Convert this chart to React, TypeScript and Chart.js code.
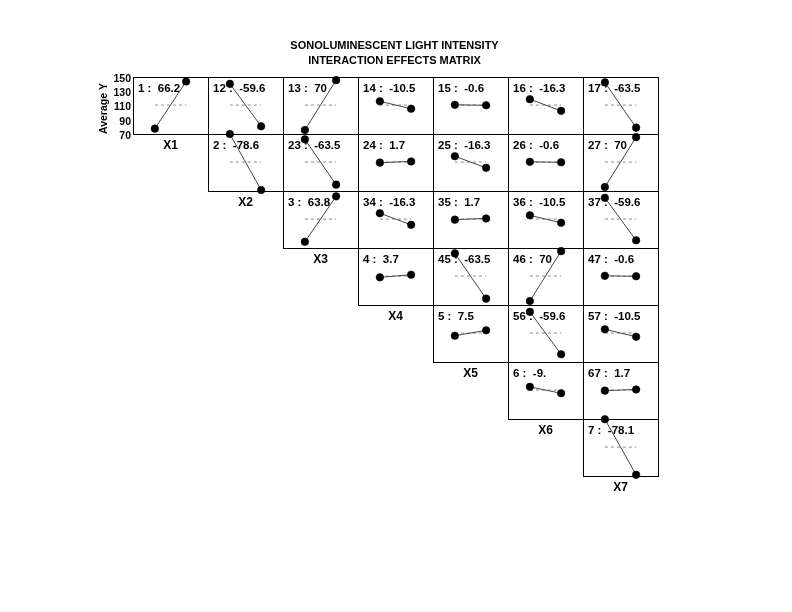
import React, { useEffect, useRef } from "react";
import { Chart, registerables } from "chart.js";

Chart.register(...registerables);

const FONT = '"Liberation Sans", Arial, Helvetica, sans-serif';

const titleLines = ["SONOLUMINESCENT LIGHT INTENSITY", "INTERACTION EFFECTS MATRIX"];
const factorNames = ["X1", "X2", "X3", "X4", "X5", "X6", "X7"];
const yAxisTitle = "Average Y";
const yTickValues = [70, 90, 110, 130, 150];
const yMin = 70;
const yMax = 150;
const xMin = -2.4;
const xMax = 2.4;
const levelLow = -1;
const levelHigh = 1;
const grandMean = 110.6;

// upper-triangle cells, row-major: "i" = main effect of Xi, "ij" = interaction Xi*Xj
const panelKeys = [
  "1", "12", "13", "14", "15", "16", "17",
  "2", "23", "24", "25", "26", "27",
  "3", "34", "35", "36", "37",
  "4", "45", "46", "47",
  "5", "56", "57",
  "6", "67",
  "7",
];

const effectLabels = [
  "66.2", "-59.6", "70", "-10.5", "-0.6", "-16.3", "-63.5",
  "-78.6", "-63.5", "1.7", "-16.3", "-0.6", "70",
  "63.8", "-16.3", "1.7", "-10.5", "-59.6",
  "3.7", "-63.5", "70", "-0.6",
  "7.5", "-59.6", "-10.5",
  "-9.", "1.7",
  "-78.1",
];

// average response at the low (-) level
const lowValues = [
  77.5, 140.4, 75.6, 115.9, 110.9, 118.8, 142.4,
  149.9, 142.4, 109.8, 118.8, 110.9, 75.6,
  78.7, 118.8, 109.8, 115.9, 140.4,
  108.8, 142.4, 75.6, 110.9,
  106.9, 140.4, 115.9,
  115.1, 109.8,
  149.7,
];

// average response at the high (+) level
const highValues = [
  143.7, 80.8, 145.6, 105.4, 110.3, 102.5, 78.9,
  71.3, 78.9, 111.5, 102.5, 110.3, 145.6,
  142.5, 102.5, 111.5, 105.4, 80.8,
  112.5, 78.9, 145.6, 110.3,
  114.4, 80.8, 105.4,
  106.1, 111.5,
  71.6,
];

function cellOf(key: string) {
  return { row: Number(key[0]) - 1, col: Number(key[key.length - 1]) - 1 };
}

const decorPlugin = {
  id: "matrixDecor",
  beforeDatasetsDraw(chart: any) {
    const { ctx, chartArea } = chart;
    ctx.save();
    ctx.fillStyle = "#000";
    ctx.textBaseline = "middle";

    // title
    ctx.font = `bold 11px ${FONT}`;
    ctx.textAlign = "center";
    const cx = (chartArea.left + chartArea.right) / 2 - 1;
    titleLines.forEach((t, i) => ctx.fillText(t, cx, chartArea.top - 31 + i * 15));

    panelKeys.forEach((key, k) => {
      const { row, col } = cellOf(key);
      const xs = chart.scales[`x${col}`];
      const ys = chart.scales[`y${row}`];
      const l = Math.round(xs.left);
      const r = Math.round(xs.right);
      const t = Math.round(ys.top);
      const b = Math.round(ys.bottom);
      ctx.strokeStyle = "#000";
      ctx.lineWidth = 1;
      ctx.strokeRect(l + 0.5, t + 0.5, r - l, b - t);

      ctx.textAlign = "left";
      ctx.font = `bold 11.5px ${FONT}`;
      ctx.fillText(`${key} :  ${effectLabels[k]}`, xs.left + 5, ys.top + 12);

      if (row === col) {
        ctx.textAlign = "center";
        ctx.font = `bold 12px ${FONT}`;
        ctx.fillText(factorNames[col], (xs.left + xs.right) / 2, ys.bottom + 12);
      }
    });
    ctx.restore();
  },
};

export default function App() {
  const ref = useRef<HTMLCanvasElement>(null);

  useEffect(() => {
    const scales: any = {};
    for (let i = 0; i < 7; i++) {
      scales[`x${i}`] = {
        type: "linear",
        position: "bottom",
        stack: "cols",
        stackWeight: 1,
        weight: i,
        min: xMin,
        max: xMax,
        display: false,
      };
    }
    for (let i = 0; i < 7; i++) {
      const shown = i === 0;
      scales[`y${i}`] = {
        type: "linear",
        position: "left",
        stack: "rows",
        stackWeight: 1,
        weight: 7 - i,
        min: yMin,
        max: yMax,
        display: shown,
        grid: { display: false, drawTicks: false },
        border: { display: false },
        ticks: {
          autoSkip: false,
          padding: 2,
          labelOffset: 2,
          color: "#000",
          font: { family: FONT, size: 10.5, weight: "bold" },
          callback: (v: any) => String(v),
        },
        afterBuildTicks: (s: any) => {
          s.ticks = yTickValues.map((v) => ({ value: v }));
        },
        title: {
          display: shown,
          text: yAxisTitle,
          align: "start",
          color: "#000",
          font: { family: FONT, size: 10.5, weight: "bold" },
          padding: { top: 5, bottom: 0 },
        },
        afterFit: (s: any) => {
          if (shown) s.width = 40;
        },
      };
    }

    const datasets: any[] = [];
    panelKeys.forEach((key, k) => {
      const { row, col } = cellOf(key);
      datasets.push({
        label: `mean ${key}`,
        data: [
          { x: levelLow, y: grandMean },
          { x: levelHigh, y: grandMean },
        ],
        xAxisID: `x${col}`,
        yAxisID: `y${row}`,
        showLine: true,
        borderColor: "#8a8a8a",
        borderWidth: 1,
        borderDash: [3, 3],
        pointRadius: 0,
        clip: false,
        order: 2,
      });
      datasets.push({
        label: key,
        data: [
          { x: levelLow, y: lowValues[k] },
          { x: levelHigh, y: highValues[k] },
        ],
        xAxisID: `x${col}`,
        yAxisID: `y${row}`,
        showLine: true,
        borderColor: "#444",
        borderWidth: 1,
        pointRadius: 3.8,
        pointBorderWidth: 0.5,
        pointBackgroundColor: "#000",
        pointBorderColor: "#000",
        clip: false,
        order: 1,
      });
    });

    const chart = new Chart(ref.current as HTMLCanvasElement, {
      type: "scatter",
      data: { datasets },
      options: {
        animation: false,
        responsive: false,
        events: [],
        layout: { padding: { top: 77, left: 93, right: 134, bottom: 136 } },
        plugins: {
          legend: { display: false },
          tooltip: { enabled: false },
          title: { display: false },
        },
        scales,
      } as any,
      plugins: [decorPlugin],
    });
    return () => chart.destroy();
  }, []);

  return (
    <div style={{ position: "absolute", left: 0, top: 0, width: 792, height: 612, background: "#fff" }}>
      <canvas ref={ref} width={792} height={612} style={{ display: "block", width: 792, height: 612 }} />
    </div>
  );
}
